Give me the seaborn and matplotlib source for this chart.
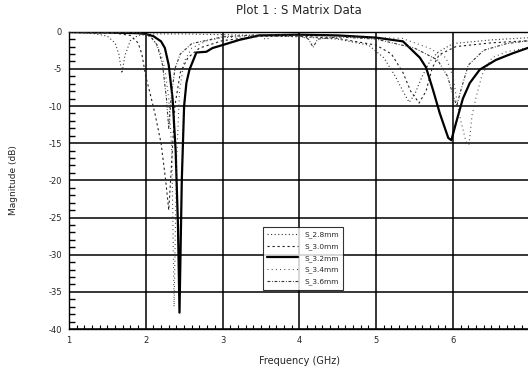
import numpy as np
import pandas as pd
import matplotlib
matplotlib.use("Agg")
import matplotlib.pyplot as plt
import seaborn as sns

# Return-loss sweeps for five patch widths (frequency in GHz, magnitude in dB)
f_28 = [1.0, 1.3, 1.5, 1.6, 1.65, 1.69, 1.73, 1.8, 1.9, 2.1, 2.5, 3.0, 3.5, 4.0, 4.5,
        4.9, 5.1, 5.25, 5.35, 5.43, 5.5, 5.6, 5.7, 5.8, 6.0, 6.5, 7.0]
m_28 = [-0.1, -0.2, -0.6, -1.5, -3.0, -5.6, -3.2, -1.2, -0.5, -0.3, -0.3, -0.4, -0.5, -0.7, -1.0,
        -1.8, -3.5, -6.0, -8.0, -9.5, -8.5, -6.0, -4.0, -2.8, -1.6, -1.1, -0.8]

f_30 = [1.0, 1.6, 1.8, 1.9, 1.95, 2.0, 2.05, 2.12, 2.2, 2.26, 2.3, 2.33, 2.38, 2.45, 2.55,
        2.7, 3.0, 3.5, 4.0, 4.5, 5.0, 5.2, 5.35, 5.45, 5.56, 5.65, 5.73, 5.82, 6.04, 6.5, 7.0]
m_30 = [-0.1, -0.2, -0.5, -1.5, -3.0, -6.0, -8.0, -11.0, -15.0, -20.0, -24.0, -19.0, -10.0, -5.5, -3.5,
        -2.2, -1.2, -0.6, -0.6, -0.9, -1.8, -3.0, -5.5, -8.0, -9.6, -8.0, -4.9, -3.1, -2.0, -1.5, -1.2]

f_32 = [1.0, 1.5, 1.9, 2.0, 2.1, 2.2, 2.25, 2.3, 2.35, 2.39, 2.42, 2.44, 2.47, 2.5, 2.53,
        2.57, 2.66, 2.79, 2.87, 3.0, 3.22, 3.48, 4.0, 4.5, 5.0, 5.35, 5.57, 5.65, 5.74, 5.83,
        5.94, 5.98, 6.04, 6.13, 6.22, 6.35, 6.56, 6.78, 7.0]
m_32 = [-0.05, -0.1, -0.2, -0.3, -0.6, -1.3, -2.2, -4.5, -9.0, -16.0, -26.0, -37.8, -20.0, -10.0, -6.9,
        -5.1, -2.8, -2.7, -2.2, -1.8, -1.1, -0.5, -0.4, -0.5, -0.8, -1.3, -3.5, -4.8, -7.8, -11.0,
        -14.3, -14.6, -12.3, -9.0, -6.9, -5.1, -3.8, -2.9, -2.1]

f_34 = [1.0, 1.8, 2.0, 2.1, 2.2, 2.25, 2.3, 2.34, 2.37, 2.4, 2.44, 2.5, 2.6, 2.8, 3.0,
        3.5, 3.57, 3.64, 4.0, 4.5, 5.0, 5.34, 5.69, 5.91, 6.0, 6.08, 6.17, 6.21, 6.25, 6.3,
        6.38, 6.51, 6.7, 7.0]
m_34 = [-0.05, -0.1, -0.4, -1.0, -3.0, -5.0, -9.0, -16.0, -37.0, -18.0, -8.0, -4.0, -2.2, -1.2, -0.8,
        -0.6, -1.1, -0.6, -0.5, -0.6, -0.8, -0.9, -2.2, -3.5, -6.0, -11.0, -14.8, -15.2, -11.2, -8.9,
        -5.8, -3.5, -2.7, -2.1]

f_36 = [1.0, 1.9, 2.05, 2.15, 2.22, 2.27, 2.3, 2.33, 2.38, 2.45, 2.6, 3.0, 3.5, 4.0, 4.12,
        4.18, 4.24, 4.5, 5.0, 5.5, 5.8, 5.93, 6.0, 6.05, 6.1, 6.2, 6.4, 6.7, 7.0]
m_36 = [-0.05, -0.1, -0.5, -1.8, -4.5, -9.0, -13.0, -9.0, -5.0, -3.0, -1.6, -0.7, -0.4, -0.5, -1.0,
        -2.1, -1.0, -0.7, -1.0, -2.2, -3.8, -6.0, -8.5, -10.0, -8.0, -4.5, -2.5, -1.6, -1.2]

labels = ["S_2.8mm", "S_3.0mm", "S_3.2mm", "S_3.4mm", "S_3.6mm"]
freqs = [f_28, f_30, f_32, f_34, f_36]
mags = [m_28, m_30, m_32, m_34, m_36]

x_ticks = [1, 2, 3, 4, 5, 6, 7]
y_ticks = [0, -5, -10, -15, -20, -25, -30, -35, -40]

frames = []
for lab, f, m in zip(labels, freqs, mags):
    frames.append(pd.DataFrame({"Frequency": f, "Magnitude": m, "Trace": lab}))
df = pd.concat(frames, ignore_index=True)

sns.set_style("ticks", {"xtick.direction": "in", "ytick.direction": "in"})
plt.rcParams["font.family"] = ["DejaVu Sans"]

styles = {
    "S_2.8mm": dict(dashes=(1.0, 2.2), lw=0.8, color="#333333"),
    "S_3.0mm": dict(dashes=(2.0, 2.5), lw=0.8, color="#222222"),
    "S_3.2mm": dict(dashes=None, lw=1.6, color="black"),
    "S_3.4mm": dict(dashes=(0.8, 3.0), lw=0.8, color="#333333"),
    "S_3.6mm": dict(dashes=(2.5, 1.5, 0.8, 1.5), lw=0.8, color="#333333"),
}

fig = plt.figure(figsize=(5.28, 3.70), dpi=100)
ax = fig.add_axes([68.9 / 528, 1 - 329 / 370, (529.7 - 68.9) / 528, (329 - 31.7) / 370])

for lab in labels:
    st = styles[lab]
    sub = df[df["Trace"] == lab]
    sns.lineplot(data=sub, x="Frequency", y="Magnitude", ax=ax, sort=False,
                 estimator=None, color=st["color"], lw=st["lw"], label=lab, zorder=3)
    line = ax.lines[-1]
    if st["dashes"] is not None:
        line.set_dashes(st["dashes"])

ax.set_xlim(1, 7)
ax.set_ylim(-40, 0)
ax.set_xticks(x_ticks)
ax.set_yticks(y_ticks)
ax.set_xticklabels([str(v) for v in x_ticks])
ax.set_yticklabels([str(v) for v in y_ticks])
# inward minor ticks along the bottom and left frame
ax.set_xticks(np.arange(10, 71) / 10.0, minor=True)
ax.set_yticks(np.arange(-40, 1).astype(float), minor=True)
ax.tick_params(axis="x", which="major", direction="in", length=0, labelsize=6, pad=5)
ax.tick_params(axis="y", which="major", direction="in", length=0, labelsize=6, pad=5)
ax.tick_params(axis="x", which="minor", direction="in", length=3, width=0.8,
               bottom=True, top=False, color="black")
ax.tick_params(axis="y", which="minor", direction="in", length=4, width=1.0,
               left=True, right=False, color="black")
ax.grid(True, which="major", color="black", lw=1.1, zorder=1)
ax.grid(False, which="minor")
for sp in ax.spines.values():
    sp.set_color("black")
    sp.set_linewidth(1.0)

ax.set_xlabel("Frequency (GHz)", fontsize=7, labelpad=8)
ax.set_ylabel("Magnitude (dB)", fontsize=6.5, labelpad=22)
ax.set_title("Plot 1 : S Matrix Data", fontsize=8.5, pad=13)

leg = ax.legend(loc="upper left", bbox_to_anchor=(0.421, 0.343), fontsize=5.3,
                frameon=True, fancybox=False, edgecolor="black", handlelength=4.2,
                handletextpad=0.8, borderpad=0.6, labelspacing=0.65, borderaxespad=0)
leg.get_frame().set_linewidth(0.8)
leg.set_zorder(5)

fig.savefig("out.png", dpi=100)
